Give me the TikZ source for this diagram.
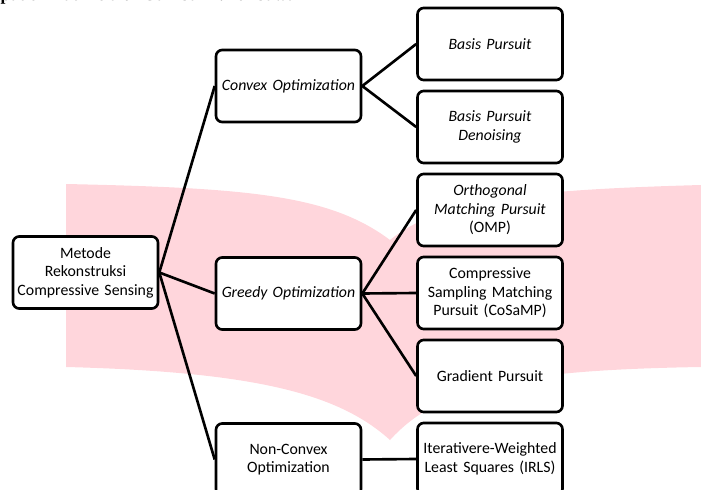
\documentclass[tikz,border=0pt]{standalone}
\usepackage{fontspec}
\setmainfont{Carlito}
\newfontfamily\judulfont{Liberation Serif}
\definecolor{pinklogo}{RGB}{255,214,220}

\begin{document}
\begin{tikzpicture}[x=0.02cm,y=-0.02cm]
\tikzstyle{kotak}=[draw=black, line width=1.5pt, rounded corners=3.5pt, fill=white,
  text width=2.8cm, inner xsep=0.05cm, inner ysep=0pt, minimum height=1.44cm,
  align=center, font=\fontsize{9}{10.5}\selectfont]
\tikzstyle{garis}=[draw=black, line width=1.5pt]
\useasboundingbox (0,0) rectangle (701,490);
% potongan kalimat di atas gambar
\node[anchor=base east, inner sep=0pt, font=\judulfont\bfseries\fontsize{10}{12}\selectfont] (judul) at (330,1) {dapat dilihat melalui Gambar 2.1 di bawah ini};
% watermark
\fill[pinklogo] (66,184) .. controls (250,188) and (330,195) .. (390,240)
  -- (390,440) .. controls (340,395) and (260,372) .. (66,367) -- cycle;
\fill[pinklogo] (390,240) .. controls (440,200) and (520,190) .. (701,185)
  -- (701,367) .. controls (520,370) and (440,385) .. (390,440) -- cycle;
% kolom kiri
\node[kotak] (metode) at (85.5,272.5) {Metode\\Rekonstruksi\\Compressive Sensing};
% kolom tengah
\node[kotak] (convex) at (288.5,86) {\itshape Convex Optimization};
\node[kotak] (greedy) at (288.5,293.5) {\itshape Greedy Optimization};
\node[kotak] (nonconvex) at (288.5,459.5) {Non-Convex\\Optimization};
% kolom kanan
\node[kotak] (bp) at (490,44) {\itshape Basis Pursuit};
\node[kotak] (bpdn) at (490,127) {\itshape Basis Pursuit\\Denoising};
\node[kotak] (omp) at (490,210) {\itshape Orthogonal\\Matching Pursuit\\\upshape(OMP)};
\node[kotak] (cosamp) at (490,293) {Compressive\\Sampling Matching\\Pursuit (CoSaMP)};
\node[kotak] (gp) at (490,376) {Gradient Pursuit};
\node[kotak] (irls) at (490,459) {Iterativere-Weighted\\Least Squares (IRLS)};
% garis penghubung
\foreach \b in {convex,greedy,nonconvex}
  \draw[garis] (metode.east) -- (\b.west);
\foreach \b in {bp,bpdn}
  \draw[garis] (convex.east) -- (\b.west);
\foreach \b in {omp,cosamp,gp}
  \draw[garis] (greedy.east) -- (\b.west);
\draw[garis] (nonconvex.east) -- (irls.west);
\end{tikzpicture}
\end{document}
